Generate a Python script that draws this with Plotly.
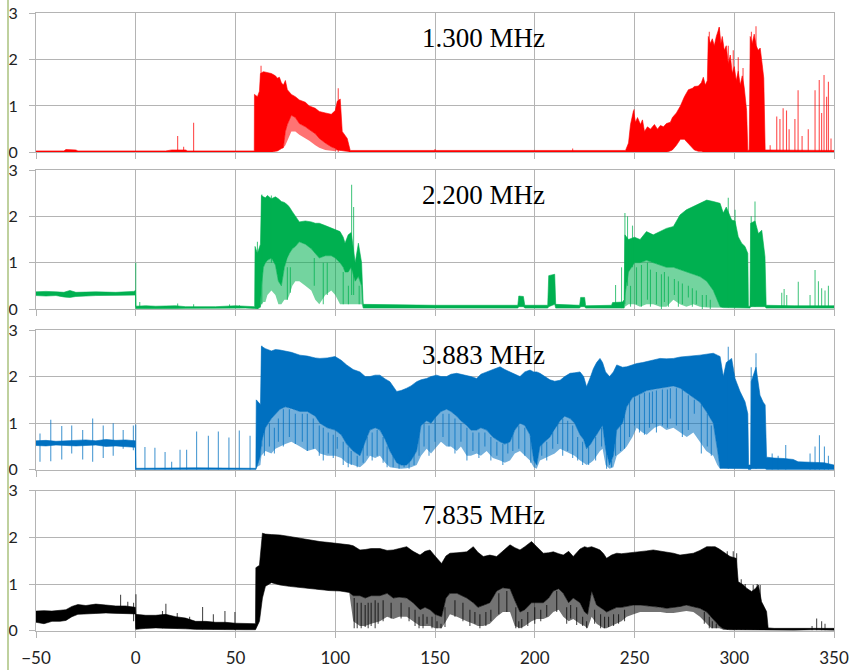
import plotly.graph_objects as go

# Each panel: x positions with the upper edge (hi), the lower edge of the solid
# band (lo) and the lowest reach of the sparse streaks below it (fl).

# ---------------- 1.300 MHz (red) ----------------
p1_x = [-50, -36, -35, -30, -29, 15, 18, 25, 26, 59.4,
        59.5, 61, 62, 62.5, 64, 66, 68, 70, 71, 72,
        73, 74, 75, 76, 78, 80, 82, 85, 87, 90,
        92, 95, 98, 100, 101, 102.5, 103.5, 106, 107.5, 150,
        200, 245.5, 247, 248, 249.5, 250.5, 251.5, 253, 254, 255,
        256.5, 258, 260, 261.5, 263, 264.5, 266, 268, 269, 271,
        273, 275, 277, 279, 280, 282, 283.5, 284.5, 285.5, 286.5,
        287, 288, 289, 290, 291, 292.5, 293.3, 294, 295, 296,
        297, 298, 299, 300, 301, 302, 303, 304, 305, 306.2,
        306.8, 307.5, 308, 309, 310, 311, 312, 313, 314, 314.8,
        315.5, 330, 350]
p1_hi = [0.03, 0.03, 0.06, 0.05, 0.03, 0.03, 0.05, 0.05, 0.03, 0.03,
         1.25, 1.20, 1.32, 1.70, 1.74, 1.72, 1.70, 1.65, 1.60, 1.62,
         1.50, 1.45, 1.55, 1.35, 1.25, 1.20, 1.13, 1.08, 1.00, 0.95,
         0.88, 0.85, 0.82, 0.90, 1.10, 1.15, 0.45, 0.30, 0.04, 0.04,
         0.04, 0.04, 0.20, 0.60, 0.90, 0.65, 0.75, 0.60, 0.70, 0.45,
         0.55, 0.50, 0.60, 0.50, 0.58, 0.55, 0.62, 0.65, 0.75, 0.85,
         1.00, 1.20, 1.35, 1.38, 1.42, 1.43, 1.50, 1.62, 1.45, 1.55,
         2.50, 2.35, 2.45, 2.30, 2.50, 2.70, 2.35, 2.50, 2.20, 2.30,
         1.90, 2.10, 1.70, 1.85, 1.55, 1.75, 1.45, 1.65, 1.40, 0.90,
         0.04, 0.05, 2.50, 2.35, 2.55, 2.30, 2.20, 2.25, 1.90, 1.60,
         0.05, 0.04, 0.04]
p1_lo = [0.0, 0.0, 0.01, 0.01, 0.0, 0.0, 0.01, 0.01, 0.0, 0.0,
         0.0, 0.0, 0.0, 0.0, 0.0, 0.0, 0.0, 0.02, 0.03, 0.05,
         0.08, 0.10, 0.45, 0.60, 0.80, 0.75, 0.62, 0.55, 0.50, 0.40,
         0.30, 0.20, 0.12, 0.08, 0.05, 0.05, 0.03, 0.02, 0.0, 0.0,
         0.0, 0.0, 0.0, 0.0, 0.0, 0.0, 0.0, 0.0, 0.0, 0.0,
         0.0, 0.0, 0.0, 0.0, 0.0, 0.0, 0.0, 0.03, 0.05, 0.15,
         0.28, 0.28, 0.20, 0.10, 0.05, 0.02, 0.02, 0.0, 0.0, 0.0,
         0.0, 0.0, 0.0, 0.0, 0.0, 0.0, 0.0, 0.0, 0.0, 0.0,
         0.0, 0.0, 0.0, 0.0, 0.0, 0.0, 0.0, 0.0, 0.0, 0.0,
         0.0, 0.0, 0.0, 0.0, 0.0, 0.0, 0.0, 0.0, 0.0, 0.0,
         0.0, 0.0, 0.0]
p1_fl = [0.0, 0.0, 0.01, 0.01, 0.0, 0.0, 0.01, 0.01, 0.0, 0.0,
         0.0, 0.0, 0.0, 0.0, 0.0, 0.0, 0.0, 0.02, 0.03, 0.05,
         0.08, 0.10, 0.15, 0.25, 0.45, 0.45, 0.38, 0.30, 0.25, 0.15,
         0.10, 0.05, 0.03, 0.02, 0.05, 0.05, 0.03, 0.02, 0.0, 0.0,
         0.0, 0.0, 0.0, 0.0, 0.0, 0.0, 0.0, 0.0, 0.0, 0.0,
         0.0, 0.0, 0.0, 0.0, 0.0, 0.0, 0.0, 0.03, 0.05, 0.15,
         0.28, 0.28, 0.20, 0.10, 0.05, 0.02, 0.02, 0.0, 0.0, 0.0,
         0.0, 0.0, 0.0, 0.0, 0.0, 0.0, 0.0, 0.0, 0.0, 0.0,
         0.0, 0.0, 0.0, 0.0, 0.0, 0.0, 0.0, 0.0, 0.0, 0.0,
         0.0, 0.0, 0.0, 0.0, 0.0, 0.0, 0.0, 0.0, 0.0, 0.0,
         0.0, 0.0, 0.0]
p1_sx = [21, 24, 29, 62.8, 101.5, 150, 219, 249.8, 287.5, 292.4, 297, 299.5, 302, 304.4, 308.6, 310.9,
         318, 321.3, 322.9, 324.5, 326.2, 327.5, 330.4, 332, 334, 337.1, 340.5, 342.6, 343.8, 345, 346.3,
         347.2, 348.5]
p1_st = [0.35, 0.12, 0.64, 1.87, 1.38, 0.07, 0.08, 0.93, 2.60, 2.70, 2.30, 2.20, 2.05, 1.82, 2.60, 2.72,
         0.15, 0.77, 0.72, 0.95, 0.90, 0.50, 0.72, 1.34, 0.35, 0.50, 1.34, 1.56, 0.85, 1.67, 1.20, 1.52, 0.30]
p1_sb = [0.0] * len(p1_sx)

# ---------------- 2.200 MHz (green) ----------------
p2_x = [-50, -45, -40, -36, -33, -30, -20, -10, -1, -0.1,
        0, 5, 10, 20, 25, 40, 50, 55, 59.6, 59.8,
        61, 62.5, 63, 64, 65, 66, 68, 70, 71.5, 73,
        74.5, 76, 77, 78.5, 80, 82, 85, 88, 90, 92,
        95, 98, 100, 102.4, 104, 104.9, 106.5, 108, 110, 111.6,
        113.2, 114, 150, 191.5, 192, 194.3, 195, 206.5, 207, 210,
        210.5, 222.5, 223, 225, 225.5, 238.5, 239, 244, 244.8, 245.2,
        247, 250, 252.8, 256, 259.4, 262.8, 266, 269.5, 272.8, 276,
        279.5, 282.8, 286.2, 289.5, 292.9, 294.5, 296, 298.7, 300.4, 302,
        303.7, 305.4, 306.8, 307.1, 307.9, 308.2, 310.4, 312.1, 313.8, 315.4,
        316, 330, 350]
p2_hi = [0.37, 0.38, 0.37, 0.36, 0.40, 0.36, 0.37, 0.36, 0.38, 0.40,
         0.06, 0.07, 0.06, 0.07, 0.05, 0.05, 0.07, 0.06, 0.05, 1.35,
         1.20, 1.40, 2.45, 2.42, 2.40, 2.45, 2.38, 2.42, 2.38, 2.32,
         2.30, 2.25, 2.20, 2.10, 2.00, 1.88, 1.90, 1.88, 1.85, 1.85,
         1.80, 1.75, 1.70, 1.67, 1.55, 1.42, 1.60, 1.65, 1.00, 1.42,
         1.00, 0.10, 0.08, 0.08, 0.28, 0.27, 0.08, 0.08, 0.72, 0.75,
         0.10, 0.08, 0.25, 0.25, 0.07, 0.08, 0.14, 0.15, 0.20, 1.60,
         1.50, 1.55, 1.50, 1.67, 1.60, 1.67, 1.74, 1.78, 2.03, 2.14,
         2.21, 2.28, 2.35, 2.32, 2.28, 2.07, 2.20, 1.92, 1.90, 1.56,
         1.42, 1.35, 1.20, 0.06, 0.06, 1.85, 1.90, 1.63, 1.70, 1.13,
         0.08, 0.07, 0.07]
p2_lo = [0.29, 0.28, 0.29, 0.26, 0.25, 0.27, 0.29, 0.29, 0.30, 0.30,
         0.01, 0.02, 0.02, 0.02, 0.01, 0.01, 0.02, 0.02, 0.01, 0.0,
         0.0, 0.05, 0.50, 0.90, 1.00, 1.05, 1.10, 0.95, 0.60, 0.50,
         0.90, 1.10, 1.20, 1.30, 1.35, 1.45, 1.40, 1.30, 1.20, 1.10,
         1.15, 1.15, 1.10, 1.00, 0.90, 0.80, 0.80, 0.90, 0.60, 0.70,
         0.50, 0.02, 0.02, 0.02, 0.05, 0.05, 0.02, 0.02, 0.05, 0.10,
         0.02, 0.02, 0.05, 0.05, 0.02, 0.02, 0.02, 0.02, 0.02, 0.30,
         0.80, 1.00, 1.00, 1.05, 1.00, 0.95, 0.90, 0.90, 0.85, 0.80,
         0.75, 0.70, 0.60, 0.40, 0.05, 0.03, 0.03, 0.03, 0.03, 0.03,
         0.03, 0.03, 0.03, 0.02, 0.02, 0.05, 0.05, 0.05, 0.05, 0.05,
         0.02, 0.02, 0.02]
p2_fl = [0.29, 0.28, 0.29, 0.26, 0.25, 0.27, 0.29, 0.29, 0.30, 0.30,
         0.01, 0.02, 0.02, 0.02, 0.01, 0.01, 0.02, 0.02, 0.01, 0.0,
         0.0, 0.02, 0.10, 0.15, 0.15, 0.30, 0.40, 0.30, 0.10, 0.10,
         0.20, 0.20, 0.30, 0.50, 0.60, 0.60, 0.50, 0.40, 0.20, 0.10,
         0.30, 0.40, 0.30, 0.10, 0.10, 0.10, 0.10, 0.10, 0.10, 0.10,
         0.10, 0.02, 0.02, 0.02, 0.05, 0.05, 0.02, 0.02, 0.05, 0.10,
         0.02, 0.02, 0.05, 0.05, 0.02, 0.02, 0.02, 0.02, 0.02, 0.05,
         0.10, 0.10, 0.05, 0.10, 0.10, 0.05, 0.05, 0.20, 0.10, 0.05,
         0.10, 0.05, 0.03, 0.02, 0.02, 0.03, 0.03, 0.03, 0.03, 0.03,
         0.03, 0.03, 0.03, 0.02, 0.02, 0.05, 0.05, 0.05, 0.05, 0.05,
         0.02, 0.02, 0.02]
p2_sx = [0, 2, 21, 29, 47, 52, 61, 63.2, 68, 108.2, 109.2, 76, 77.5, 89.5, 94, 96, 104, 106.6, 112,
         240.5, 243.5, 245.2, 246.5, 249, 248, 251, 253.5, 256.5, 258, 261, 263.5, 265, 267, 270, 272, 274,
         277, 279, 281, 284, 286, 288, 297, 300.4, 308.5, 310.4, 323.8, 325, 326.3, 332.1, 338, 340.5,
         342.2, 343.8, 345.5, 347.2]
p2_st = [1.00, 0.15, 0.12, 0.10, 0.10, 0.08, 1.45, 2.47, 2.45, 2.68, 2.20, 0.90, 0.90, 1.10, 1.00, 1.00,
         0.80, 0.50, 0.50, 0.52, 0.90, 2.07, 2.00, 1.80, 0.50, 0.90, 0.95, 1.00, 0.85, 0.80, 0.75, 0.80, 0.70,
         0.65, 0.60, 0.55, 0.50, 0.45, 0.40, 0.30, 0.30, 0.20, 2.40, 2.14, 2.00, 2.32, 0.35, 0.43, 0.30, 0.59,
         0.30, 0.84, 0.60, 0.45, 0.40, 0.50]
p2_sb = [0.05, 0.02, 0.02, 0.02, 0.02, 0.02, 0.0, 0.1, 1.0, 0.30, 0.30, 0.20, 0.35, 0.50, 0.10, 0.30, 0.10,
         0.10, 0.10, 0.02, 0.02, 0.10, 0.50, 0.90, 0.05, 0.10, 0.05, 0.20, 0.05, 0.10, 0.0, 0.15, 0.05, 0.30,
         0.05, 0.10, 0.25, 0.05, 0.10, 0.0, 0.05, 0.0, 0.03, 0.03, 0.05, 0.05, 0.02, 0.02, 0.02, 0.02, 0.02,
         0.02, 0.02, 0.02, 0.02, 0.02]

# ---------------- 3.883 MHz (blue) ----------------
p3_x = [-50, -45, -40, -35, -30, -25, -20, -15, -10, -5,
        -0.2, 0, 30, 60.2, 60.4, 62.5, 63, 65, 68, 70,
        72.3, 75, 78, 82.3, 86, 90, 92.3, 96, 99.9, 103,
        105.7, 109, 112.4, 115, 117.4, 120, 122.4, 125, 127.4, 130.8,
        133, 135.8, 138, 140.8, 143, 145.8, 148, 150.8, 153, 155.8,
        158, 160.9, 163, 165.9, 168, 170.9, 173, 175.9, 179, 182.6,
        185, 187.6, 190, 192.6, 195, 197.6, 199.5, 201, 202.6, 205,
        207.6, 210, 212.7, 215, 217.7, 220, 222.7, 224.5, 226, 228,
        229.4, 231, 232.7, 234, 235.5, 237.5, 239.4, 241.1, 244, 246.1,
        249, 251.1, 254, 256.1, 260, 262.8, 266, 269.5, 273, 276.2,
        279.5, 282.8, 286, 289.5, 291.5, 292.9, 294.5, 296, 298.7, 300.4,
        302.9, 305.4, 306.8, 307.2, 308.2, 308.5, 310.9, 312.9, 314.5, 315.5,
        316.2, 320, 325, 329.6, 332, 340, 345, 350]
p3_hi = [0.62, 0.63, 0.61, 0.62, 0.63, 0.64, 0.62, 0.65, 0.63, 0.64,
         0.62, 0.03, 0.04, 0.03, 1.50, 1.40, 2.65, 2.60, 2.55, 2.58,
         2.57, 2.55, 2.52, 2.46, 2.44, 2.40, 2.39, 2.40, 2.43, 2.35,
         2.25, 2.15, 2.10, 2.00, 2.00, 2.03, 2.03, 1.95, 1.89, 1.68,
         1.70, 1.75, 1.80, 1.89, 1.93, 1.96, 2.00, 2.03, 2.00, 2.00,
         2.05, 2.07, 2.05, 2.03, 2.00, 1.96, 2.05, 2.10, 2.15, 2.21,
         2.15, 2.10, 2.05, 2.00, 2.10, 2.14, 2.10, 2.10, 2.07, 2.00,
         1.93, 1.90, 1.92, 2.00, 2.07, 2.08, 2.10, 2.00, 1.78, 2.00,
         2.17, 2.30, 2.39, 2.30, 2.10, 2.00, 2.10, 2.25, 2.20, 2.21,
         2.25, 2.28, 2.30, 2.32, 2.36, 2.39, 2.38, 2.39, 2.42, 2.43,
         2.44, 2.46, 2.48, 2.50, 2.46, 2.43, 2.00, 2.30, 2.39, 1.96,
         1.68, 1.46, 1.20, 0.10, 0.10, 1.89, 2.20, 1.60, 1.45, 1.39,
         0.27, 0.25, 0.24, 0.22, 0.17, 0.16, 0.15, 0.10]
p3_lo = [0.52, 0.51, 0.53, 0.52, 0.51, 0.52, 0.53, 0.50, 0.51, 0.50,
         0.48, 0.0, 0.0, 0.0, 0.05, 0.30, 0.60, 0.90, 1.10, 1.20,
         1.30, 1.35, 1.30, 1.25, 1.25, 1.15, 1.00, 0.90, 0.85, 0.75,
         0.55, 0.40, 0.30, 0.60, 0.85, 0.90, 0.85, 0.65, 0.40, 0.15,
         0.10, 0.10, 0.20, 0.40, 0.95, 1.05, 1.00, 1.15, 1.25, 1.30,
         1.25, 1.15, 1.05, 0.95, 0.85, 0.85, 0.90, 0.85, 0.70, 0.60,
         0.55, 0.60, 0.85, 1.00, 0.95, 0.75, 0.20, 0.10, 0.50, 0.60,
         0.70, 0.85, 1.05, 1.15, 1.10, 1.00, 0.75, 0.65, 0.45, 0.55,
         0.65, 0.75, 0.85, 0.95, 0.45, 0.10, 0.30, 0.85, 1.00, 1.35,
         1.55, 1.60, 1.65, 1.70, 1.72, 1.75, 1.77, 1.80, 1.75, 1.65,
         1.55, 1.45, 1.25, 1.00, 0.45, 0.03, 0.02, 0.02, 0.02, 0.02,
         0.02, 0.02, 0.02, 0.0, 0.0, 0.02, 0.02, 0.02, 0.02, 0.02,
         0.0, 0.0, 0.0, 0.0, 0.0, 0.0, 0.0, 0.0]
p3_fl = [0.52, 0.51, 0.53, 0.52, 0.51, 0.52, 0.53, 0.50, 0.51, 0.50,
         0.48, 0.0, 0.0, 0.0, 0.05, 0.10, 0.30, 0.40, 0.35, 0.45,
         0.50, 0.55, 0.60, 0.50, 0.40, 0.45, 0.35, 0.30, 0.30, 0.25,
         0.15, 0.10, 0.05, 0.15, 0.30, 0.25, 0.30, 0.15, 0.05, 0.03,
         0.02, 0.03, 0.05, 0.10, 0.30, 0.45, 0.35, 0.50, 0.60, 0.50,
         0.50, 0.40, 0.50, 0.30, 0.30, 0.35, 0.30, 0.40, 0.25, 0.20,
         0.15, 0.20, 0.35, 0.40, 0.30, 0.20, 0.05, 0.02, 0.20, 0.25,
         0.30, 0.35, 0.45, 0.40, 0.35, 0.30, 0.20, 0.15, 0.10, 0.15,
         0.20, 0.30, 0.40, 0.45, 0.10, 0.02, 0.05, 0.30, 0.40, 0.50,
         0.70, 0.90, 0.80, 0.75, 0.90, 0.95, 0.85, 0.90, 0.80, 0.70,
         0.80, 0.60, 0.40, 0.30, 0.10, 0.02, 0.02, 0.02, 0.02, 0.02,
         0.02, 0.02, 0.02, 0.0, 0.0, 0.02, 0.02, 0.02, 0.02, 0.02,
         0.0, 0.0, 0.0, 0.0, 0.0, 0.0, 0.0, 0.0]
p3_sx = [-48, -42.6, -37.1, -32.1, -26.6, -21.6, -16.3, -11.3, -6.3, -1.2, 0, 4.6, 9.6, 14.7, 18, 22.2,
         25.5, 30.5, 36.4, 41.4, 46.7, 51.9, 57.3, 63.2, 64.5, 67, 69.5, 71.5, 74, 77, 80, 83.5, 86, 89, 92,
         94, 96.5, 99, 101, 104, 106.5, 108, 111, 114, 116, 118.5, 121, 124, 126, 129, 132, 134.5, 137, 139.5,
         142, 144.5, 147, 150, 154, 157, 160, 163, 166, 169, 172, 175, 178, 181, 184, 186.5, 189, 192, 195,
         198, 203.5, 206, 209, 211.5, 214, 216.5, 219, 221.5, 224, 227, 230.5, 233.5, 236, 238.5, 240.5, 243,
         245, 247.5, 250, 252.5, 255, 257.5, 259, 261, 264, 266.5, 268, 271, 274, 277, 280, 283.5, 286.5,
         288.5, 297, 308.5, 310.9, 319, 322, 325.8, 338, 340.5, 342.7, 345.2, 347.2]
p3_st = [0.78, 1.07, 0.94, 0.95, 0.85, 1.10, 0.95, 1.00, 0.85, 0.95, 0.97, 0.49, 0.47, 0.38, 0.17, 0.43,
         0.43, 0.82, 0.73, 0.82, 0.69, 0.84, 0.73, 2.66, 1.00, 1.00, 0.90, 1.10, 1.30, 1.30, 1.20, 1.20, 1.20,
         1.10, 0.95, 0.90, 0.80, 0.75, 0.70, 0.60, 0.50, 0.40, 0.30, 0.55, 0.70, 0.80, 0.85, 0.70, 0.50, 0.30,
         0.20, 0.20, 0.30, 0.40, 0.90, 1.00, 0.95, 1.10, 1.20, 1.20, 1.10, 1.00, 0.90, 0.80, 0.80, 0.80, 0.70,
         0.60, 0.55, 0.60, 0.80, 0.95, 0.90, 0.70, 0.55, 0.60, 0.80, 1.00, 1.10, 1.05, 0.95, 0.70, 0.60, 0.50,
         0.70, 0.90, 0.40, 0.20, 0.80, 0.95, 1.30, 1.50, 1.55, 1.60, 1.65, 1.66, 1.68, 1.70, 1.72, 1.72, 1.75,
         1.75, 1.72, 1.60, 1.50, 1.40, 1.20, 0.95, 2.64, 2.20, 2.50, 0.35, 0.30, 0.53, 0.35, 0.50, 0.74, 0.50,
         0.30]
p3_sb = [0.17, 0.18, 0.22, 0.35, 0.22, 0.17, 0.25, 0.30, 0.45, 0.42, 0.0, 0.0, 0.0, 0.0, 0.0, 0.0, 0.0, 0.0,
         0.0, 0.0, 0.0, 0.0, 0.0, 0.5, 0.30, 0.50, 0.35, 0.60, 0.50, 0.70, 0.55, 0.60, 0.40, 0.45, 0.30, 0.20,
         0.35, 0.25, 0.45, 0.10, 0.05, 0.10, 0.05, 0.15, 0.30, 0.20, 0.30, 0.15, 0.05, 0.05, 0.02, 0.05, 0.02,
         0.10, 0.30, 0.50, 0.30, 0.60, 0.70, 0.50, 0.35, 0.60, 0.20, 0.40, 0.25, 0.50, 0.20, 0.30, 0.10, 0.35,
         0.40, 0.45, 0.30, 0.15, 0.30, 0.20, 0.45, 0.55, 0.30, 0.40, 0.25, 0.20, 0.10, 0.10, 0.20, 0.50, 0.02,
         0.05, 0.30, 0.40, 0.45, 0.70, 0.95, 0.80, 0.75, 0.90, 1.00, 0.80, 0.95, 0.90, 1.10, 0.95, 0.70, 0.85,
         1.20, 0.35, 0.50, 0.30, 0.02, 0.02, 0.02, 0.0, 0.0, 0.0, 0.0, 0.0, 0.0, 0.0, 0.0]

# ---------------- 7.835 MHz (black) ----------------
p4_x = [-50, -46, -42, -38, -35, -32, -29, -25, -20, -15,
        -10, -5, -0.2, 0, 5, 10, 15, 20, 25, 30,
        35, 40, 45, 50, 55, 60, 60.2, 62, 63.5, 65,
        68, 72.3, 77, 82.3, 87, 92.3, 97, 102.4, 107, 109,
        112.4, 115, 118, 122.4, 126, 129.1, 132, 135.8, 139, 142.5,
        145, 147.5, 150, 153.3, 155.5, 157.5, 161, 165.9, 169.2, 171.5,
        174.2, 177.5, 180.9, 184, 187.6, 190, 192.6, 195, 198.4, 201,
        204.3, 207, 209.3, 212, 214.3, 217, 219.3, 222.7, 225, 226.5,
        228.5, 231, 232.7, 234.5, 236, 238.5, 241.1, 243.5, 246.1, 249.5,
        252.8, 256, 259.4, 263, 266.1, 269.5, 272.8, 276, 279.5, 282.8,
        286.2, 288.5, 290.4, 292.5, 294.5, 297.9, 301, 302, 304.6, 306.2,
        308.7, 310.5, 312.1, 313.7, 316.2, 317, 320, 330, 340, 350]
p4_hi = [0.42, 0.43, 0.42, 0.44, 0.45, 0.52, 0.56, 0.54, 0.57, 0.55,
         0.53, 0.53, 0.50, 0.35, 0.33, 0.33, 0.35, 0.30, 0.27, 0.20,
         0.20, 0.18, 0.18, 0.16, 0.15, 0.15, 1.35, 1.40, 2.09, 2.07,
         2.06, 2.05, 2.02, 1.98, 1.95, 1.91, 1.89, 1.87, 1.84, 1.82,
         1.73, 1.74, 1.76, 1.76, 1.72, 1.73, 1.76, 1.80, 1.70, 1.62,
         1.70, 1.73, 1.60, 1.44, 1.60, 1.66, 1.67, 1.69, 1.80, 1.68,
         1.59, 1.62, 1.59, 1.70, 1.84, 1.78, 1.73, 1.80, 1.91, 1.80,
         1.66, 1.67, 1.69, 1.65, 1.62, 1.70, 1.59, 1.75, 1.80, 1.78,
         1.80, 1.76, 1.73, 1.65, 1.55, 1.62, 1.66, 1.65, 1.66, 1.67,
         1.69, 1.71, 1.73, 1.71, 1.69, 1.66, 1.62, 1.64, 1.66, 1.72,
         1.80, 1.80, 1.80, 1.75, 1.69, 1.59, 1.55, 1.05, 0.98, 0.91,
         0.84, 0.90, 0.98, 0.62, 0.41, 0.06, 0.05, 0.05, 0.06, 0.05]
p4_lo = [0.18, 0.15, 0.20, 0.20, 0.22, 0.30, 0.35, 0.36, 0.37, 0.38,
         0.38, 0.37, 0.36, 0.03, 0.05, 0.06, 0.06, 0.05, 0.04, 0.03,
         0.03, 0.03, 0.03, 0.02, 0.02, 0.02, 0.05, 0.20, 0.70, 0.95,
         1.03, 0.98, 0.95, 0.93, 0.90, 0.88, 0.86, 0.85, 0.82, 0.75,
         0.75, 0.70, 0.75, 0.75, 0.80, 0.70, 0.72, 0.70, 0.60, 0.45,
         0.50, 0.45, 0.35, 0.30, 0.70, 0.80, 0.80, 0.70, 0.60, 0.50,
         0.55, 0.60, 0.85, 0.92, 0.90, 0.65, 0.40, 0.45, 0.60, 0.60,
         0.60, 0.70, 0.85, 0.90, 0.80, 0.60, 0.70, 0.60, 0.40, 0.35,
         0.85, 0.55, 0.50, 0.45, 0.40, 0.45, 0.50, 0.50, 0.52, 0.55,
         0.55, 0.53, 0.52, 0.50, 0.48, 0.50, 0.52, 0.55, 0.52, 0.48,
         0.40, 0.30, 0.20, 0.10, 0.04, 0.02, 0.02, 0.02, 0.02, 0.02,
         0.02, 0.02, 0.02, 0.02, 0.02, 0.01, 0.01, 0.01, 0.02, 0.01]
p4_fl = [0.18, 0.15, 0.20, 0.20, 0.22, 0.30, 0.35, 0.36, 0.37, 0.38,
         0.38, 0.37, 0.36, 0.03, 0.05, 0.06, 0.06, 0.05, 0.04, 0.03,
         0.03, 0.03, 0.03, 0.02, 0.02, 0.02, 0.05, 0.20, 0.70, 0.95,
         1.03, 0.98, 0.95, 0.93, 0.90, 0.88, 0.86, 0.85, 0.82, 0.20,
         0.10, 0.10, 0.15, 0.20, 0.30, 0.25, 0.30, 0.30, 0.20, 0.10,
         0.10, 0.10, 0.05, 0.05, 0.20, 0.35, 0.30, 0.20, 0.15, 0.10,
         0.10, 0.15, 0.30, 0.40, 0.40, 0.10, 0.05, 0.10, 0.20, 0.25,
         0.25, 0.30, 0.40, 0.45, 0.30, 0.20, 0.25, 0.15, 0.10, 0.05,
         0.30, 0.15, 0.10, 0.05, 0.05, 0.10, 0.15, 0.20, 0.30, 0.35,
         0.40, 0.40, 0.40, 0.40, 0.38, 0.38, 0.40, 0.42, 0.40, 0.30,
         0.15, 0.05, 0.05, 0.05, 0.02, 0.02, 0.02, 0.02, 0.02, 0.02,
         0.02, 0.02, 0.02, 0.02, 0.02, 0.01, 0.01, 0.01, 0.02, 0.01]
p4_sx = [-7.6, -4, -1.1, 0.1, 13.4, 15.1, 20.8, 27, 33.5, 38.9, 44.7, 49.7, 109.5, 111, 113, 115, 116.5,
         118, 120, 121.5, 124, 128, 133, 137, 140, 142, 144, 146, 148.5, 151, 153, 155, 160, 164, 167.5, 170,
         172.5, 175.5, 178, 182, 186, 190.5, 192, 193.5, 196.5, 200, 203, 206, 211, 216, 218, 221, 224, 226,
         230, 233, 235, 237, 239.5, 242, 245, 285, 287.5, 289, 291, 296.5, 299.5, 301.2, 303.5, 305.5, 309.5,
         311.5, 313, 339, 341.3, 343.8, 345.5]
p4_st = [0.77, 0.62, 0.60, 0.78, 0.42, 0.58, 0.38, 0.30, 0.51, 0.35, 0.42, 0.40, 0.70, 0.60, 0.60, 0.55,
         0.60, 0.60, 0.65, 0.60, 0.65, 0.60, 0.60, 0.50, 0.45, 0.30, 0.35, 0.30, 0.30, 0.20, 0.15, 0.50, 0.65,
         0.60, 0.45, 0.40, 0.35, 0.40, 0.45, 0.80, 0.85, 0.50, 0.20, 0.25, 0.40, 0.50, 0.45, 0.55, 0.85, 0.50,
         0.55, 0.50, 0.30, 0.20, 0.45, 0.35, 0.30, 0.30, 0.35, 0.35, 0.45, 0.40, 0.30, 0.20, 0.15, 1.70, 1.70,
         1.66, 1.10, 1.00, 0.98, 1.00, 0.98, 0.10, 0.26, 0.20, 0.15]
p4_sb = [0.38, 0.38, 0.20, 0.05, 0.05, 0.06, 0.05, 0.04, 0.03, 0.03, 0.03, 0.02, 0.05, 0.05, 0.05, 0.08,
         0.05, 0.10, 0.05, 0.15, 0.20, 0.26, 0.26, 0.20, 0.10, 0.05, 0.05, 0.15, 0.05, 0.05, 0.05, 0.08, 0.30,
         0.20, 0.10, 0.15, 0.05, 0.10, 0.20, 0.35, 0.40, 0.05, 0.05, 0.05, 0.10, 0.15, 0.20, 0.30, 0.40, 0.15,
         0.26, 0.12, 0.10, 0.05, 0.15, 0.05, 0.05, 0.08, 0.10, 0.15, 0.20, 0.15, 0.05, 0.05, 0.05, 0.02, 0.02,
         0.02, 0.02, 0.02, 0.02, 0.02, 0.02, 0.01, 0.01, 0.01, 0.01]

panels = [
    ("1.300 MHz", (255, 0, 0), p1_x, p1_hi, p1_lo, p1_fl, p1_sx, p1_st, p1_sb),
    ("2.200 MHz", (0, 176, 80), p2_x, p2_hi, p2_lo, p2_fl, p2_sx, p2_st, p2_sb),
    ("3.883 MHz", (0, 112, 192), p3_x, p3_hi, p3_lo, p3_fl, p3_sx, p3_st, p3_sb),
    ("7.835 MHz", (0, 0, 0), p4_x, p4_hi, p4_lo, p4_fl, p4_sx, p4_st, p4_sb),
]

x_ticks = [-50, 0, 50, 100, 150, 200, 250, 300, 350]
y_ticks = [0, 1, 2, 3]

W, H = 856, 670
x_dom = [36 / W, 834 / W]
# pixel rows (top, bottom) of each panel's plotting area
rows = [(13.3, 152.3), (170.0, 309.0), (330.0, 469.7), (490.7, 630.7)]

GRID = "#b4b4b4"
XFONT = dict(family="Lato", size=17, color="#222222")
YFONT = dict(family="Lato", size=16, color="#222222")
fig = go.Figure()
layout = dict(width=W, height=H, margin=dict(l=0, r=0, t=0, b=0),
              paper_bgcolor="white", plot_bgcolor="white", showlegend=False)
annotations = []

for i, (name, rgb, xs, hi, lo, fl, sx, st, sb) in enumerate(panels):
    assert len(xs) == len(hi) == len(lo) == len(fl), name
    assert len(sx) == len(st) == len(sb), name
    n = i + 1
    xa = "x" if n == 1 else f"x{n}"
    ya = "y" if n == 1 else f"y{n}"
    solid = "rgb(%d,%d,%d)" % rgb
    light = "rgba(%d,%d,%d,0.55)" % rgb
    streak = "rgba(%d,%d,%d,0.7)" % rgb
    rx = list(xs)[::-1]
    # sparse streak zone below the solid band
    fig.add_trace(go.Scatter(
        x=list(xs) + rx, y=list(lo) + list(fl)[::-1],
        mode="lines", fill="toself", fillcolor=light,
        line=dict(color="rgba(0,0,0,0)", width=0), xaxis=xa, yaxis=ya, hoverinfo="skip"))
    # dense part of the signal
    fig.add_trace(go.Scatter(
        x=list(xs) + rx, y=list(hi) + list(lo)[::-1],
        mode="lines", fill="toself", fillcolor=solid,
        line=dict(color=solid, width=0.6), xaxis=xa, yaxis=ya, hoverinfo="skip"))
    # isolated spikes and streaks
    vx, vy = [], []
    for x0, t0, b0 in zip(sx, st, sb):
        vx += [x0, x0, None]
        vy += [b0, t0, None]
    fig.add_trace(go.Scatter(x=vx, y=vy, mode="lines",
                             line=dict(color=streak, width=1.1),
                             xaxis=xa, yaxis=ya, hoverinfo="skip"))
    top, bot = rows[i]
    kx = "xaxis" if n == 1 else f"xaxis{n}"
    ky = "yaxis" if n == 1 else f"yaxis{n}"
    layout[kx] = dict(domain=x_dom, range=[-50, 350], anchor=ya, tickvals=x_ticks,
                      showticklabels=(n == 4), ticks="outside", ticklen=6, tickcolor=GRID,
                      showgrid=True, gridcolor=GRID, gridwidth=1, zeroline=False,
                      showline=True, linecolor=GRID, mirror=True, automargin=False,
                      tickfont=XFONT, ticklabelstandoff=6)
    layout[ky] = dict(domain=[1 - bot / H, 1 - top / H], range=[0, 3], anchor=xa, tickvals=y_ticks,
                      ticks="outside", ticklen=6, tickcolor=GRID,
                      showgrid=True, gridcolor=GRID, gridwidth=1, zeroline=False,
                      showline=True, linecolor=GRID, mirror=True, automargin=False,
                      tickfont=YFONT, ticklabelstandoff=8)
    annotations.append(dict(x=174.5, y=2.47, xref=xa, yref=ya, text=name, showarrow=False,
                            font=dict(family="Liberation Serif", size=27, color="black"),
                            xanchor="center", yanchor="middle"))

layout["annotations"] = annotations
layout["shapes"] = [dict(type="line", xref="paper", yref="paper", x0=8 / W, x1=8 / W, y0=0, y1=1,
                         line=dict(color="#aac27e", width=1.5))]
fig.update_layout(**layout)
fig.write_html("out.html")
